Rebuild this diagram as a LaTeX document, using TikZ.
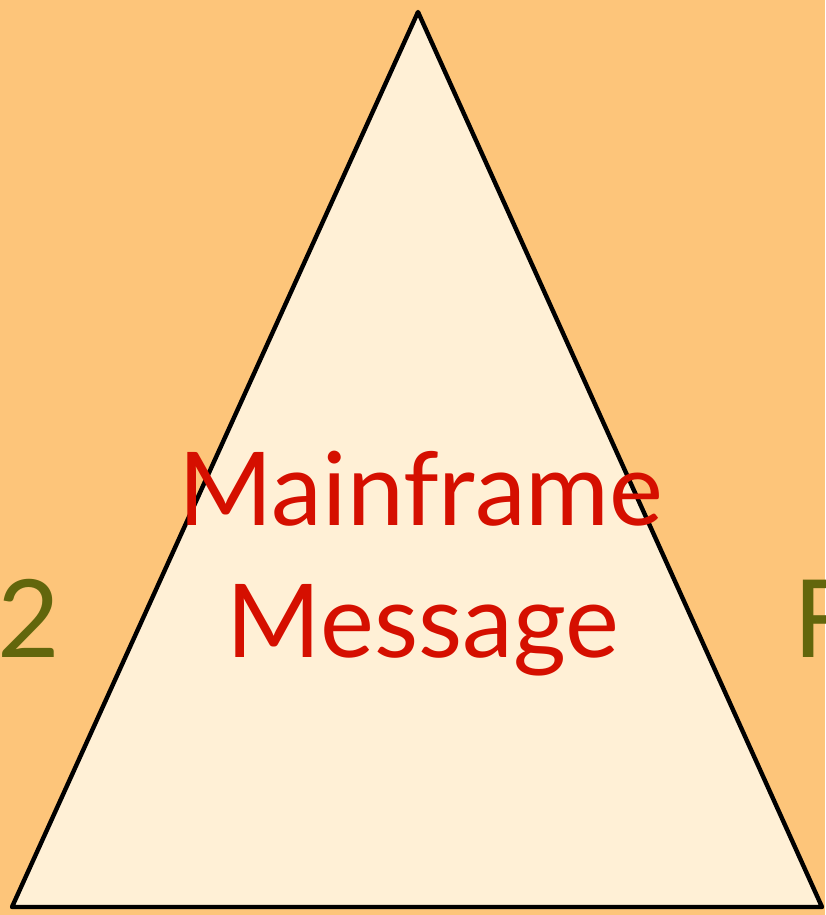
\documentclass[tikz,border=0pt]{standalone}
\usepackage{fontspec}
\setmainfont{Lato}
\definecolor{bgorange}{RGB}{253,197,122}
\definecolor{cream}{RGB}{255,240,214}
\definecolor{msgred}{RGB}{213,15,0}
\definecolor{olive}{RGB}{98,102,12}
\begin{document}
\begin{tikzpicture}[x=0.5pt,y=-0.5pt,
  sidelabel/.style={text=olive,font=\fontsize{54}{60}\selectfont,anchor=base west,inner sep=0pt},
  msglabel/.style={text=msgred,font=\fontsize{51}{60}\selectfont,anchor=base,inner sep=0pt}]
  % page background
  \fill[bgorange] (0,0) rectangle (825,915);
  \useasboundingbox (0,0) rectangle (825,915);
  % neighbouring labels clipped at the page edges
  \node[sidelabel] (left) at (-3,657) {2};
  \node[sidelabel] (right) at (793,657) {F};
  % the triangle
  \coordinate (apex) at (418,12);
  \coordinate (bl) at (12,907);
  \coordinate (br) at (822,907);
  \draw[fill=cream,line width=2.2pt,line join=round] (apex) -- (br) -- (bl) -- cycle;
  % message text
  \node[msglabel] (l1) at (421,525) {Mainframe};
  \node[msglabel] (l2) at (423,657) {Message};
\end{tikzpicture}
\end{document}
